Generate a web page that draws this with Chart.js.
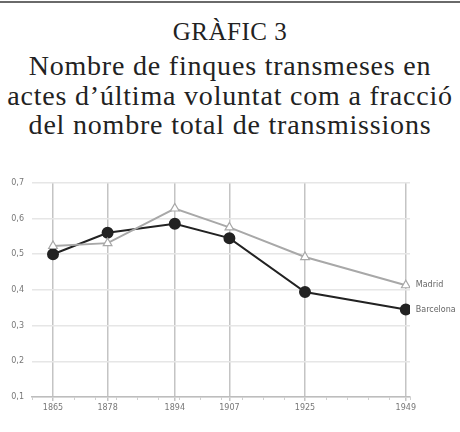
<!DOCTYPE html>
<html>
<head>
<meta charset="utf-8">
<script src="https://cdn.jsdelivr.net/npm/chart.js@4"></script>
<style>
  body { margin: 0; width: 460px; height: 432px; background: #fff; position: relative; overflow: hidden; }
  #rule { position: absolute; left: 0; top: 1px; width: 460px; height: 2px; background: #6a6a6a; }
  #head { position: absolute; left: 0; top: 19px; width: 460px; text-align: center; white-space: nowrap;
          font-family: "Liberation Serif", serif; color: #222; font-size: 25px; line-height: 26px; letter-spacing: 0.5px; }
  #title { position: absolute; left: 0; top: 51px; width: 460px; text-align: center; white-space: nowrap;
           font-family: "Liberation Serif", serif; color: #222; font-size: 28px; line-height: 29.5px; letter-spacing: 0.8px; }
  #chart { position: absolute; left: 0; top: 170px; }
</style>
</head>
<body>
<div id="rule"></div>
<div id="head">GRÀFIC 3</div>
<div id="title">Nombre de finques transmeses en<br>actes d’última voluntat com a fracció<br>del nombre total de transmissions</div>
<canvas id="chart" width="460" height="262"></canvas>
<script>
const years = [1865, 1878, 1894, 1907, 1925, 1949];
const barcelona = [0.50, 0.56, 0.585, 0.545, 0.394, 0.345];
const madrid = [0.523, 0.531, 0.628, 0.575, 0.492, 0.413];
const yTicks = [0.1, 0.2, 0.3, 0.4, 0.5, 0.6, 0.7];

const toPoints = vals => vals.map((v, i) => ({ x: years[i], y: v }));

// labels next to the last point of each line, plus small minor ticks on the x axis
const extras = {
    id: "extras",
    afterDraw(chart) {
        const ctx = chart.ctx;
        const xs = chart.scales.x;
        const bottom = chart.chartArea.bottom;
        ctx.save();
        ctx.strokeStyle = "#cfcfcf";
        ctx.lineWidth = 1;
        for (let yr = 1860; yr <= 1950; yr += 5) {
            if (years.includes(yr)) continue;
            const px = Math.round(xs.getPixelForValue(yr)) + 0.5;
            ctx.beginPath();
            ctx.moveTo(px, bottom);
            ctx.lineTo(px, bottom + 3);
            ctx.stroke();
        }
        ctx.font = "8px 'DejaVu Sans', sans-serif";
        ctx.fillStyle = "#666";
        ctx.textBaseline = "middle";
        chart.data.datasets.forEach((ds, i) => {
            const meta = chart.getDatasetMeta(i);
            const last = meta.data[meta.data.length - 1];
            ctx.fillText(ds.label, last.x + 10, last.y);
        });
        ctx.restore();
    }
};

new Chart(document.getElementById("chart"), {
    type: "line",
    data: {
        datasets: [
            {
                label: "Madrid",
                data: toPoints(madrid),
                borderColor: "#a8a8a8",
                borderWidth: 2,
                pointStyle: "triangle",
                pointRadius: 5,
                pointBackgroundColor: "#fff",
                pointBorderColor: "#a8a8a8",
                pointBorderWidth: 1.2
            },
            {
                label: "Barcelona",
                data: toPoints(barcelona),
                borderColor: "#222",
                borderWidth: 2,
                pointStyle: "circle",
                pointRadius: 5,
                pointBackgroundColor: "#222",
                pointBorderColor: "#222"
            }
        ]
    },
    plugins: [extras],
    options: {
        responsive: false,
        animation: false,
        devicePixelRatio: 1,
        layout: { padding: { top: 12, right: 50, left: 0, bottom: 0 } },
        plugins: { legend: { display: false }, tooltip: { enabled: false } },
        scales: {
            x: {
                type: "linear",
                min: 1860,
                max: 1950,
                afterBuildTicks: scale => { scale.ticks = years.map(v => ({ value: v })); },
                afterFit: scale => { scale.height = 35; },
                grid: { color: "#c4c4c4", lineWidth: 1.5, drawTicks: true, tickLength: 4 },
                border: { color: "#bdbdbd", width: 1.5 },
                ticks: { color: "#777", font: { family: "DejaVu Sans", size: 8 }, padding: 2, maxRotation: 0,
                          callback: v => String(v) }
            },
            y: {
                min: 0.1,
                max: 0.7,
                afterBuildTicks: scale => { scale.ticks = yTicks.map(v => ({ value: v })); },
                afterFit: scale => { scale.width = 32; },
                grid: { color: "#e6e6e6", lineWidth: 1.5, drawTicks: false },
                border: { display: false },
                ticks: { color: "#777", font: { family: "DejaVu Sans", size: 8 }, padding: 8,
                          callback: v => v.toFixed(1).replace(".", ",") }
            }
        }
    }
});
</script>
</body>
</html>
